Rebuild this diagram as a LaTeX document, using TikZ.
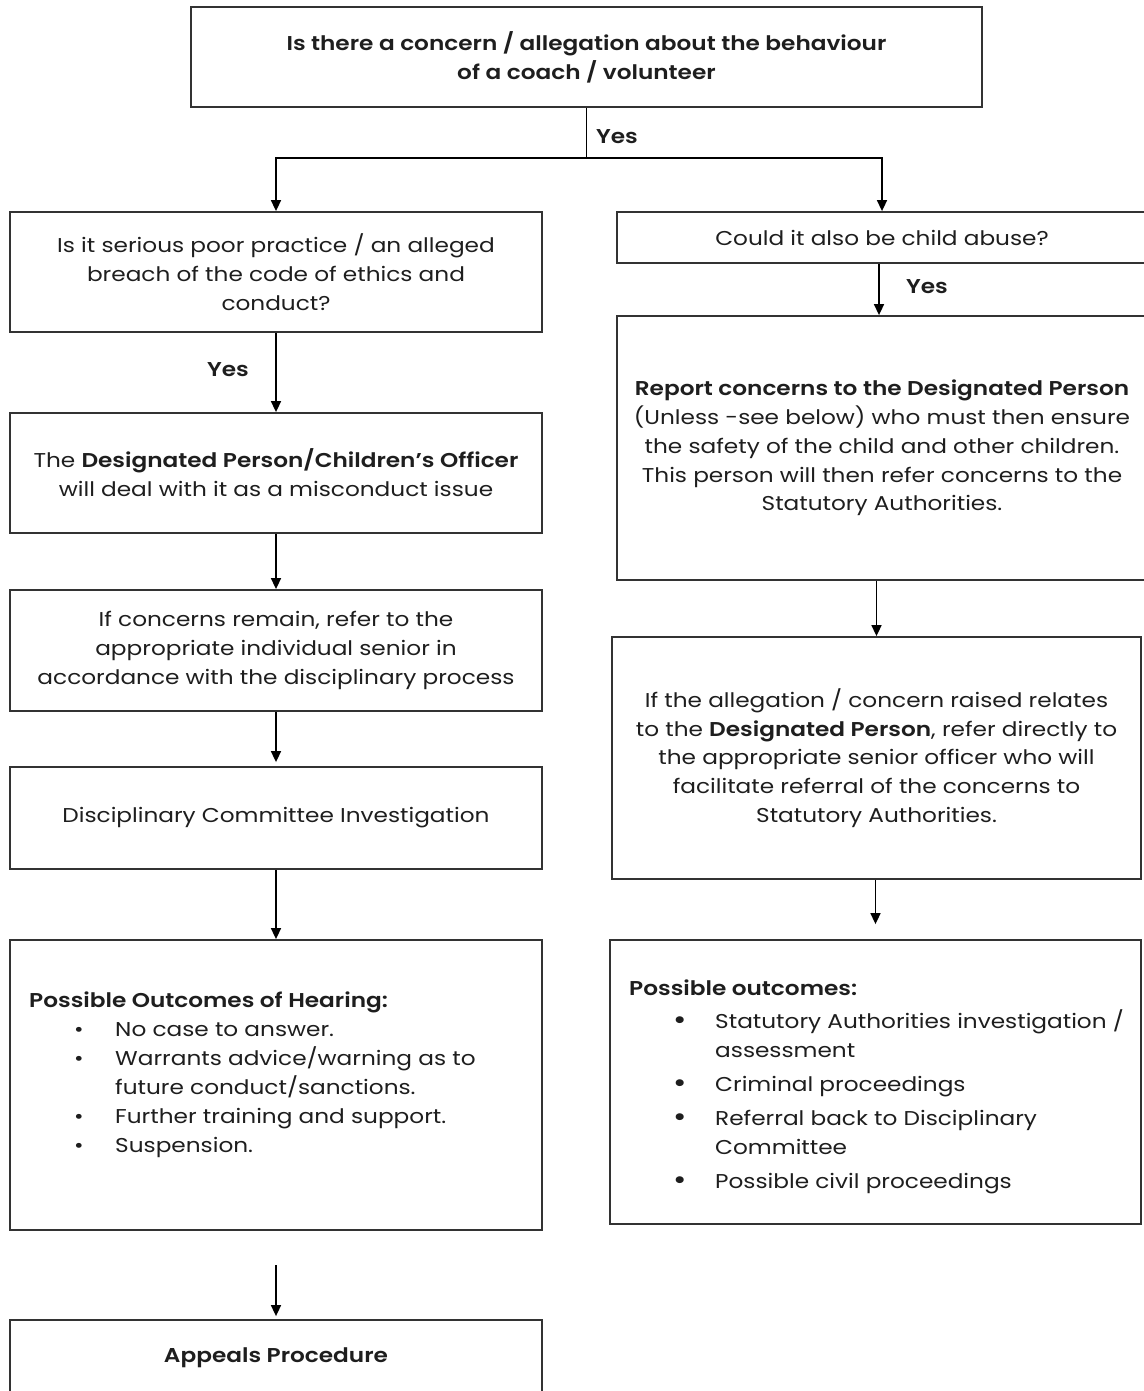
\documentclass[tikz,border=0pt]{standalone}
\usepackage{fontspec}
\usetikzlibrary{arrows.meta,calc}
\setmainfont{Poppins}[FakeStretch=1.16, BoldFont={Poppins SemiBold}]
\definecolor{linec}{HTML}{333333}
\definecolor{txt}{HTML}{1E1E1E}
\newcommand\bodyfont{\fontsize{20}{28.8}\selectfont}
\newcommand\listfont{\fontsize{20}{29}\selectfont}
\newcommand\bigbul{\raisebox{-1pt}{\fontsize{28}{20}\selectfont •}}
\begin{document}
\begin{tikzpicture}[x=1pt,y=-1pt,
  box/.style={draw=linec, line width=1.8pt, rectangle, inner sep=0pt, align=center, font=\bodyfont, text=txt},
  arr/.style={draw=black, line width=1.6pt, -{Triangle[width=10pt,length=11pt]}},
  ln/.style={draw=black, line width=1.6pt},
  yesb/.style={font=\bodyfont\bfseries, text=txt, inner sep=0pt},
  listtxt/.style={font=\listfont, text=txt, align=left, inner sep=0pt, anchor=base west}]
\useasboundingbox[fill=white] (0,0) rectangle (1143,1391);

% top
\node[box, minimum width=791pt, minimum height=100pt, font=\bodyfont\bfseries] (top) at (586.5,57)
  {Is there a concern / allegation about the behaviour\\ of a coach / volunteer};
\coordinate (split) at (586.5,158);
\draw[ln] (top) -- (split);
\node[yesb] (yes1) at (617,137) {Yes};

% left column
\node[box, minimum width=532pt, minimum height=120pt] (b1) at (276,272)
  {Is it serious poor practice / an alleged\\ breach of the code of ethics and\\ conduct?};
\node[box, minimum width=532pt, minimum height=120pt] (b2) at (276,473)
  {The \textbf{Designated Person/Children’s Officer}\\ will deal with it as a misconduct issue};
\node[box, minimum width=532pt, minimum height=121pt] (b3) at (276,650.5)
  {If concerns remain, refer to the\\ appropriate individual senior in\\ accordance with the disciplinary process};
\node[box, minimum width=532pt, minimum height=102pt] (b4) at (276,818)
  {Disciplinary Committee Investigation};
\node[box, minimum width=532pt, minimum height=290pt] (b5) at (276,1085) {};
\node[listtxt] (b5t) at (29,1152)
  {\textbf{Possible Outcomes of Hearing:}\\
   \hspace*{45pt}\makebox[41pt][l]{•}No case to answer.\\
   \hspace*{45pt}\makebox[41pt][l]{•}Warrants advice/warning as to\\
   \hspace*{86pt}future conduct/sanctions.\\
   \hspace*{45pt}\makebox[41pt][l]{•}Further training and support.\\
   \hspace*{45pt}\makebox[41pt][l]{•}Suspension.};
\node[box, minimum width=532pt, minimum height=76pt, font=\bodyfont\bfseries] (b6) at (276,1358)
  {Appeals Procedure};

% right column
\node[box, minimum width=530pt, minimum height=51pt] (r1) at (882,237.5)
  {Could it also be child abuse?};
\node[box, minimum width=530pt, minimum height=264pt] (r2) at (882,448)
  {\textbf{Report concerns to the Designated Person}\\ (Unless -see below) who must then ensure\\ the safety of the child and other children.\\ This person will then refer concerns to the\\ Statutory Authorities.};
\node[box, minimum width=529pt, minimum height=242pt] (r3) at (876.5,758)
  {If the allegation / concern raised relates\\ to the \textbf{Designated Person}, refer directly to\\ the appropriate senior officer who will\\ facilitate referral of the concerns to\\ Statutory Authorities.};
\node[box, minimum width=531pt, minimum height=284pt] (r4) at (875.5,1082) {};
\node[listtxt] (r4t) at (629,1188)
  {\textbf{Possible outcomes:}\\[4pt]
   \hspace*{44pt}\makebox[42pt][l]{\bigbul}Statutory Authorities investigation /\\
   \hspace*{86pt}assessment\\[5pt]
   \hspace*{44pt}\makebox[42pt][l]{\bigbul}Criminal proceedings\\[5pt]
   \hspace*{44pt}\makebox[42pt][l]{\bigbul}Referral back to Disciplinary\\
   \hspace*{86pt}Committee\\[5pt]
   \hspace*{44pt}\makebox[42pt][l]{\bigbul}Possible civil proceedings};

% connectors
\draw[arr] (split) -| (b1);
\draw[arr] (split) -| (r1);
\draw[arr] (b1) -- (b2);
\node[yesb] (yes2) at (228,370) {Yes};
\draw[arr] (b2) -- (b3);
\draw[arr] (b3) -- ([yshift=4pt]b4.north);
\draw[arr] (b4) -- (b5);
\coordinate (a6) at (276,1265);
\draw[arr] (a6) -- ([yshift=3pt]b6.north);

\draw[arr] ([xshift=-3pt]r1.south) -- ([xshift=-3pt]r2.north);
\node[yesb] (yes3) at (927,287) {Yes};
\draw[arr] (r2.south -| r3.north) -- (r3.north);
\draw[arr] (r3.south -| r4.north) -- ([yshift=15pt]r4.north);
\end{tikzpicture}
\end{document}
